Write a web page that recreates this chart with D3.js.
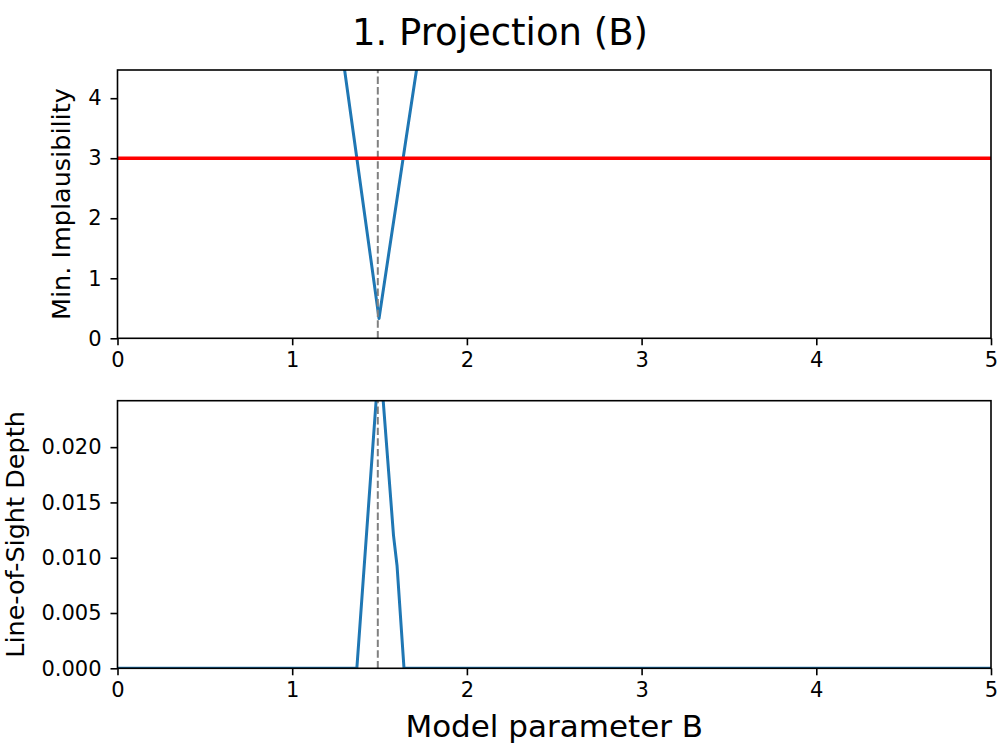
<!DOCTYPE html>
<html>
<head>
<meta charset="utf-8">
<script src="https://cdn.jsdelivr.net/npm/d3@7"></script>
<style>
  body { margin: 0; background: #fff; }
  svg { display: block; font-family: "DejaVu Sans", sans-serif; }
</style>
</head>
<body>
<div id="chart"></div>
<script>
// tick labels
const xTicks = [0, 1, 2, 3, 4, 5];
const implTicks = [0, 1, 2, 3, 4];
const depthTicks = [0, 0.005, 0.01, 0.015, 0.02];

// minimum implausibility vs B
const implB = [1.20, 1.25, 1.30, 1.35, 1.40, 1.45, 1.497, 1.55, 1.60, 1.65, 1.70, 1.75, 1.80];
const implValues = [6.6, 5.52, 4.47, 3.42, 2.37, 1.32, 0.33, 1.36, 2.32, 3.29, 4.25, 5.2, 6.2];

// line-of-sight depth vs B
const depthB = [0, 1.37, 1.50, 1.58, 1.60, 1.64, 5];
const depthValues = [0, 0, 0.0285, 0.0120, 0.0093, 0, 0];

const cutoff = 3;
const trueB = 1.49;

const width = 1000, height = 750;
const left = 117.5, right = 991;

const svg = d3.select("#chart").append("svg")
  .attr("width", width)
  .attr("height", height);

const xScale = d3.scaleLinear().domain([0, 5]).range([left, right]);

function drawPanel({ id, top, bottom, yMax, ticks, fmt, xs, ys, label, labelX, hline }) {
  const yScale = d3.scaleLinear().domain([0, yMax]).range([bottom, top]);

  svg.append("clipPath").attr("id", id)
    .append("rect")
    .attr("x", left).attr("y", top)
    .attr("width", right - left).attr("height", bottom - top);

  const plotG = svg.append("g").attr("clip-path", `url(#${id})`);

  const line = d3.line().x((d) => xScale(d[0])).y((d) => yScale(d[1]));
  plotG.append("path")
    .datum(xs.map((b, i) => [b, ys[i]]))
    .attr("d", line)
    .attr("fill", "none")
    .attr("stroke", "#1f77b4")
    .attr("stroke-width", 3)
    .attr("stroke-linejoin", "round");

  // true value marker
  plotG.append("line")
    .attr("x1", xScale(trueB)).attr("x2", xScale(trueB))
    .attr("y1", bottom).attr("y2", top)
    .attr("stroke", "#808080").attr("stroke-width", 2)
    .attr("stroke-dasharray", "7.4,3.2");

  if (hline !== undefined) {
    plotG.append("line")
      .attr("x1", left).attr("x2", right)
      .attr("y1", yScale(hline)).attr("y2", yScale(hline))
      .attr("stroke", "#ff0000").attr("stroke-width", 3.5);
  }

  // axes
  const xAxisG = svg.append("g")
    .attr("transform", `translate(0,${bottom})`)
    .call(d3.axisBottom(xScale).tickValues(xTicks).tickFormat(d3.format("d"))
      .tickSize(7).tickPadding(7).tickSizeOuter(0));
  const yAxisG = svg.append("g")
    .attr("transform", `translate(${left},0)`)
    .call(d3.axisLeft(yScale).tickValues(ticks).tickFormat(fmt)
      .tickSize(7).tickPadding(9).tickSizeOuter(0));

  [xAxisG, yAxisG].forEach((g) => {
    g.select(".domain").remove();
    g.selectAll(".tick line").attr("stroke", "#000").attr("stroke-width", 1.6);
    g.selectAll(".tick text")
      .attr("fill", "#000")
      .attr("font-family", "DejaVu Sans")
      .attr("font-size", "21px");
  });

  // frame
  svg.append("rect")
    .attr("x", left).attr("y", top)
    .attr("width", right - left).attr("height", bottom - top)
    .attr("fill", "none")
    .attr("stroke", "#000")
    .attr("stroke-width", 1.6);

  svg.append("text")
    .attr("transform", `translate(${labelX},${(top + bottom) / 2}) rotate(-90)`)
    .attr("text-anchor", "middle")
    .attr("font-size", "25.5px")
    .attr("fill", "#000")
    .text(label);
}

drawPanel({
  id: "clip-top", top: 70, bottom: 338.3, yMax: 4.47,
  ticks: implTicks, fmt: d3.format("d"),
  xs: implB, ys: implValues,
  label: "Min. Implausibility", labelX: 70, hline: cutoff
});

drawPanel({
  id: "clip-bottom", top: 400.7, bottom: 668.3, yMax: 0.0242,
  ticks: depthTicks, fmt: d3.format(".3f"),
  xs: depthB, ys: depthValues,
  label: "Line-of-Sight Depth", labelX: 24
});

// title and shared x label
svg.append("text")
  .attr("x", 500).attr("y", 45)
  .attr("text-anchor", "middle")
  .attr("font-size", "37px")
  .attr("fill", "#000")
  .text("1. Projection (B)");

svg.append("text")
  .attr("x", (left + right) / 2).attr("y", 737)
  .attr("text-anchor", "middle")
  .attr("font-size", "31px")
  .attr("fill", "#000")
  .text("Model parameter B");
</script>
</body>
</html>
